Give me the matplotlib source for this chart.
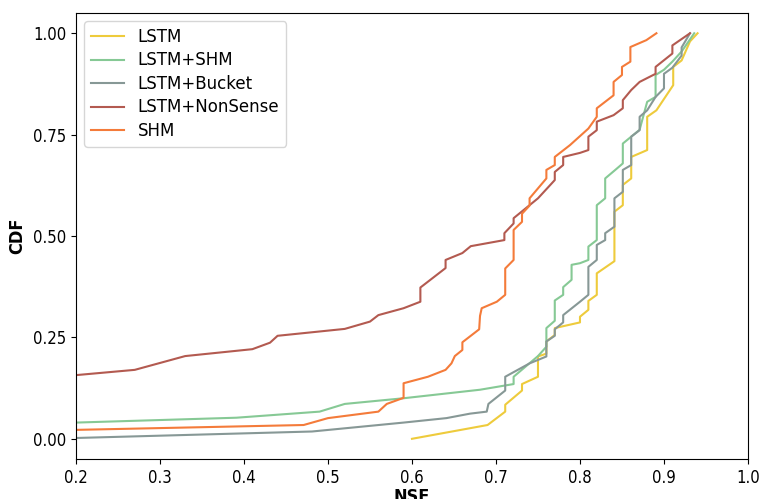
import matplotlib
matplotlib.use("Agg")
import matplotlib.pyplot as plt

plt.rcParams["font.stretch"] = "condensed"

# breakpoints of each CDF curve (NSE, cumulative fraction)
lstm_nse = [0.600, 0.690, 0.711, 0.711, 0.731, 0.731, 0.750, 0.750, 0.760, 0.760, 0.770, 0.770,
            0.800, 0.800, 0.810, 0.810, 0.820, 0.820, 0.841, 0.841, 0.851, 0.851, 0.861, 0.861,
            0.880, 0.880, 0.891, 0.911, 0.911, 0.921, 0.931, 0.940]
lstm_cdf = [0.000, 0.034, 0.067, 0.084, 0.119, 0.135, 0.153, 0.203, 0.210, 0.240, 0.256, 0.273,
            0.287, 0.301, 0.318, 0.340, 0.355, 0.408, 0.438, 0.560, 0.576, 0.626, 0.642, 0.695,
            0.712, 0.794, 0.810, 0.872, 0.917, 0.933, 0.980, 1.000]

lstm_shm_nse = [0.200, 0.391, 0.490, 0.520, 0.590, 0.681, 0.721, 0.721, 0.750, 0.760, 0.760, 0.770,
                0.770, 0.780, 0.780, 0.790, 0.790, 0.800, 0.810, 0.810, 0.820, 0.820, 0.830, 0.830,
                0.842, 0.851, 0.851, 0.861, 0.871, 0.880, 0.890, 0.890, 0.900, 0.910, 0.921, 0.936]
lstm_shm_cdf = [0.040, 0.052, 0.067, 0.086, 0.100, 0.121, 0.135, 0.153, 0.204, 0.227, 0.273, 0.291,
                0.341, 0.355, 0.374, 0.392, 0.429, 0.433, 0.441, 0.474, 0.490, 0.576, 0.593, 0.642,
                0.663, 0.679, 0.728, 0.745, 0.762, 0.831, 0.843, 0.897, 0.910, 0.930, 0.955, 1.000]

bucket_nse = [0.200, 0.481, 0.590, 0.641, 0.669, 0.689, 0.691, 0.711, 0.711, 0.740, 0.760, 0.760,
              0.770, 0.770, 0.780, 0.780, 0.800, 0.810, 0.810, 0.820, 0.820, 0.830, 0.830, 0.841,
              0.841, 0.851, 0.851, 0.861, 0.861, 0.871, 0.871, 0.880, 0.890, 0.900, 0.900, 0.910,
              0.921, 0.921, 0.931]
bucket_cdf = [0.002, 0.018, 0.040, 0.051, 0.062, 0.067, 0.086, 0.119, 0.153, 0.186, 0.203, 0.240,
              0.254, 0.270, 0.287, 0.305, 0.338, 0.355, 0.424, 0.441, 0.478, 0.490, 0.507, 0.523,
              0.593, 0.609, 0.663, 0.675, 0.745, 0.761, 0.794, 0.810, 0.843, 0.864, 0.900, 0.915,
              0.945, 0.965, 1.000]

nonsense_nse = [0.200, 0.270, 0.330, 0.410, 0.431, 0.440, 0.520, 0.550, 0.560, 0.590, 0.610, 0.610,
                0.640, 0.640, 0.660, 0.670, 0.710, 0.710, 0.721, 0.721, 0.750, 0.770, 0.770, 0.780,
                0.780, 0.800, 0.810, 0.810, 0.820, 0.820, 0.840, 0.851, 0.851, 0.861, 0.871, 0.890,
                0.890, 0.910, 0.910, 0.931]
nonsense_cdf = [0.157, 0.170, 0.204, 0.221, 0.237, 0.254, 0.271, 0.289, 0.305, 0.322, 0.338, 0.373,
                0.421, 0.441, 0.458, 0.475, 0.490, 0.507, 0.531, 0.544, 0.593, 0.638, 0.658, 0.675,
                0.695, 0.705, 0.712, 0.745, 0.761, 0.782, 0.798, 0.815, 0.835, 0.860, 0.880, 0.900,
                0.917, 0.950, 0.970, 1.000]

shm_nse = [0.200, 0.471, 0.500, 0.560, 0.570, 0.590, 0.590, 0.619, 0.640, 0.647, 0.651, 0.660,
           0.660, 0.680, 0.681, 0.683, 0.701, 0.711, 0.711, 0.721, 0.721, 0.731, 0.731, 0.740,
           0.740, 0.760, 0.760, 0.770, 0.770, 0.788, 0.810, 0.820, 0.820, 0.840, 0.840, 0.850,
           0.850, 0.860, 0.860, 0.879, 0.891]
shm_cdf = [0.022, 0.034, 0.051, 0.067, 0.086, 0.101, 0.137, 0.153, 0.170, 0.186, 0.204, 0.219,
           0.238, 0.270, 0.303, 0.322, 0.338, 0.355, 0.420, 0.441, 0.515, 0.535, 0.555, 0.575,
           0.593, 0.642, 0.663, 0.675, 0.695, 0.724, 0.765, 0.794, 0.815, 0.847, 0.880, 0.897,
           0.917, 0.930, 0.966, 0.983, 1.000]

labels = ["LSTM", "LSTM+SHM", "LSTM+Bucket", "LSTM+NonSense", "SHM"]
colors = ["#EECB3C", "#86C995", "#879896", "#B35A50", "#F47B3A"]

fig, ax = plt.subplots(figsize=(7.62, 4.99), dpi=100)
fig.subplots_adjust(left=0.0997, right=0.9816, top=0.974, bottom=0.080)

series = [(lstm_nse, lstm_cdf), (lstm_shm_nse, lstm_shm_cdf), (bucket_nse, bucket_cdf),
          (nonsense_nse, nonsense_cdf), (shm_nse, shm_cdf)]
for (x, y), label, color in zip(series, labels, colors):
    ax.plot(x, y, color=color, linewidth=1.5, label=label)

ax.set_xlim(0.2, 1.0)
ax.set_ylim(-0.05, 1.05)
ax.set_xticks([0.2, 0.3, 0.4, 0.5, 0.6, 0.7, 0.8, 0.9, 1.0])
ax.set_yticks([0.0, 0.25, 0.5, 0.75, 1.0])
ax.set_yticklabels(["0.00", "0.25", "0.50", "0.75", "1.00"])
ax.tick_params(labelsize=12)
ax.set_xlabel("NSE", fontsize=13, fontweight="bold", labelpad=1)
ax.set_ylabel("CDF", fontsize=13, fontweight="bold", labelpad=5)

# legend text is drawn at normal width in the reference
leg = ax.legend(loc="upper left", labelspacing=0.33, handlelength=2.0,
                prop={"size": 12, "stretch": "normal"})

fig.savefig("out.png", dpi=100)
